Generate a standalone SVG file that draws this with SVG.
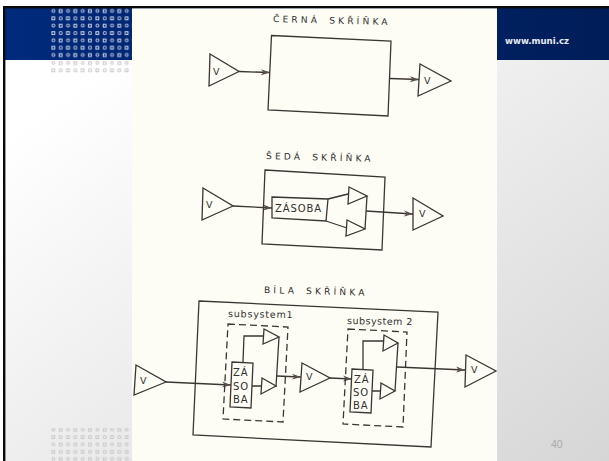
<svg xmlns="http://www.w3.org/2000/svg" width="609" height="461" viewBox="0 0 609 461">
<style>
.s{fill:none;stroke:#3a3634;stroke-width:1.3;stroke-linejoin:miter}
.t{fill:#fdfdf6;stroke:#3a3634;stroke-width:1.3}
.d{fill:none;stroke:#3a3634;stroke-width:1.3;stroke-dasharray:7 4}
.l{font-family:"DejaVu Sans",sans-serif;fill:#33302e}
.c{font-size:9px;letter-spacing:3.2px;word-spacing:3px}
.v{font-size:9.5px}
.z{font-size:10px;letter-spacing:.9px}
.u{font-size:9.5px;letter-spacing:.8px}
.u2{font-size:9.5px;letter-spacing:.5px}
</style>
<defs>
<linearGradient id="bg" x1="0" y1="0" x2="1" y2="1"><stop offset="0.15" stop-color="#ffffff"/><stop offset="1" stop-color="#d6d6d6"/></linearGradient>
<linearGradient id="blue" x1="0" y1="0" x2="1" y2="0"><stop offset="0" stop-color="#002a7c"/><stop offset="1" stop-color="#001d58"/></linearGradient>
<marker id="a" markerWidth="10" markerHeight="7" refX="9" refY="3.5" orient="auto" markerUnits="userSpaceOnUse"><path d="M0 .5L9 3.5L0 6.5L2.5 3.5Z" fill="#5a4f4c"/></marker>
<pattern id="dw" x="50" y="7.5" width="14.67" height="14.67" patternUnits="userSpaceOnUse"><circle cx="3.4" cy="3.5" r="1.5" fill="none" stroke="#b9c1d6" stroke-width="1"/><rect x="9.2" y="2.2" width="2.8" height="2.8" fill="none" stroke="#d4d9e6" stroke-width="1"/><rect x="1.9" y="9.5" width="2.8" height="2.8" fill="none" stroke="#d4d9e6" stroke-width="1"/><circle cx="10.7" cy="10.9" r="1.5" fill="none" stroke="#b9c1d6" stroke-width="1"/></pattern>
<pattern id="dg" x="50" y="59.5" width="14.67" height="14.67" patternUnits="userSpaceOnUse"><circle cx="3.4" cy="3.5" r="1.5" fill="none" stroke="#c8c8c8" stroke-width="1"/><rect x="9.2" y="2.2" width="2.8" height="2.8" fill="none" stroke="#c8c8c8" stroke-width="1"/><rect x="1.9" y="9.5" width="2.8" height="2.8" fill="none" stroke="#c8c8c8" stroke-width="1"/><circle cx="10.7" cy="10.9" r="1.5" fill="none" stroke="#c8c8c8" stroke-width="1"/></pattern>
</defs>
<g id="slide">
<rect width="609" height="461" fill="#fff"/>
<rect x="3" y="6" width="606" height="455" fill="url(#bg)"/>
<rect x="4" y="8" width="605" height="52" fill="url(#blue)"/>
<rect x="3" y="6" width="606" height="2.4" fill="#0a0a0a"/>
<rect x="3" y="6" width="2.4" height="455" fill="#0a0a0a"/>
<rect x="50" y="8" width="82" height="52" fill="url(#dw)"/>
<rect x="50" y="60" width="82" height="14" fill="url(#dg)"/>
<rect x="50" y="428" width="82" height="33" fill="url(#dg)"/>
<rect x="132" y="8.4" width="365" height="452.6" fill="#fdfdf6"/>
<text x="505" y="44" font-family="'DejaVu Sans',sans-serif" font-size="8.6" font-weight="bold" fill="#e8ebf2">www.muni.cz</text>
<text x="551" y="448" font-family="'Liberation Sans',sans-serif" font-size="10.5" fill="#a8a8a8">40</text>
</g>
<g id="connectors">
<path class="s" marker-end="url(#a)" d="M239 71.5L270 72.5"/>
<path class="s" marker-end="url(#a)" d="M390 78.5L419 79.5"/>
<path class="s" marker-end="url(#a)" d="M233 206L272 208"/>
<path class="s" d="M328 199L348 194M326 221L347 228M367 196L365 229"/>
<path class="s" marker-end="url(#a)" d="M366 211L413 214"/>
<path class="s" marker-end="url(#a)" d="M166 382L231 385"/>
<path class="s" d="M243 362L244 336L263 336M252 386L261 386M279 337L276 387"/>
<path class="s" marker-end="url(#a)" d="M277 376L301 377"/>
<path class="s" marker-end="url(#a)" d="M330 378L352 379"/>
<path class="s" d="M363 369L363 341L383 341M372 391L380 391M398 343L395 391"/>
<path class="s" marker-end="url(#a)" d="M397 367L465 370"/>
</g>
<g id="cerna-skrinka">
<text class="l c" transform="translate(273 22) rotate(1.5)">ČERNÁ SKŘÍŇKA</text>
<path class="s" d="M271.5 35.5L391 41L388 116L268 110Z"/>
</g>
<g id="v-in-1"><path class="t" d="M210 54L239 71.5L209 86Z"/><text class="l v" x="213" y="75">V</text></g>
<g id="v-out-1"><path class="t" d="M420 64L451 81L418 96Z"/><text class="l v" x="424" y="84">V</text></g>
<g id="seda-skrinka">
<text class="l c" transform="translate(266 159) rotate(1.5)">ŠEDÁ SKŘÍŇKA</text>
<path class="s" d="M265 170L385 177L382 250L262 244Z"/>
</g>
<g id="v-in-2"><path class="t" d="M203 188L233 206L202 220Z"/><text class="l v" x="206" y="208">V</text></g>
<g id="zasoba"><path class="t" d="M272 197L328 199L326 221L272 218Z"/><text class="l z" x="275" y="212">ZÁSOBA</text></g>
<g id="seda-top"><path class="t" d="M349 187L367 196L348 204Z"/></g>
<g id="seda-bottom"><path class="t" d="M347 220L365 229L346 236Z"/></g>
<g id="v-out-2"><path class="t" d="M413 198L443 216L413 230Z"/><text class="l v" x="419" y="217">V</text></g>
<g id="bila-skrinka">
<text class="l c" transform="translate(264 293) rotate(1.5)">BÍLA SKŘÍŇKA</text>
<path class="s" d="M199 301L438 312L431 447L193 435Z"/>
</g>
<g id="v-in-3"><path class="t" d="M136 365L166 382L134 395Z"/><text class="l v" x="140" y="384">V</text></g>
<g id="subsystem1">
<text class="l u" transform="translate(228 317) rotate(1)">subsystem1</text>
<path class="d" d="M228 324L288 327L283 422L223 419Z"/>
</g>
<g id="zasoba-1">
<path class="t" d="M232 362L253 363L251 408L230 407Z"/>
<text class="l z" x="233" y="376">ZÁ</text><text class="l z" x="233" y="390">SO</text><text class="l z" x="233" y="403">BA</text>
</g>
<g id="s1-top"><path class="t" d="M264 329L279 337L263 344Z"/></g>
<g id="s1-bottom"><path class="t" d="M262 378L276 386L261 394Z"/></g>
<g id="v-mid"><path class="t" d="M302 363L330 378L300 392Z"/><text class="l v" x="306" y="380">V</text></g>
<g id="subsystem2">
<text class="l u2" transform="translate(347 324) rotate(1)">subsystem 2</text>
<path class="d" d="M348 329L407 332L403 427L343 424Z"/>
</g>
<g id="zasoba-2">
<path class="t" d="M352 369L373 370L371 413L350 412Z"/>
<text class="l z" x="354" y="383">ZÁ</text><text class="l z" x="353" y="396">SO</text><text class="l z" x="353" y="409">BA</text>
</g>
<g id="s2-top"><path class="t" d="M384 335L398 343L383 351Z"/></g>
<g id="s2-bottom"><path class="t" d="M381 383L395 391L380 399Z"/></g>
<g id="v-out-3"><path class="t" d="M466 355L496 371L465 387Z"/><text class="l v" x="471" y="373">V</text></g>
</svg>
